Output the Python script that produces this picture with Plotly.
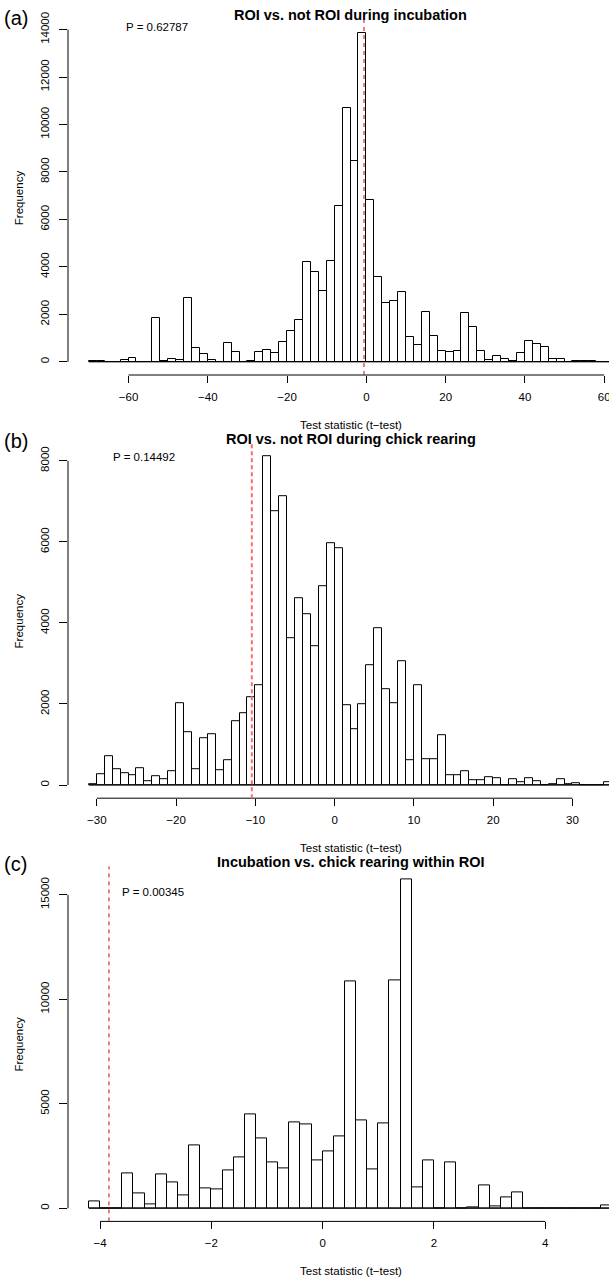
import plotly.graph_objects as go

W, H = 609, 1280
FONT = "Liberation Sans, Arial, Helvetica, sans-serif"

# ---------------- data ----------------
titles = ["ROI vs. not ROI during incubation",
          "ROI vs. not ROI during chick rearing",
          "Incubation vs. chick rearing within ROI"]
panel_labels = ["(a)", "(b)", "(c)"]
p_texts = ["P = 0.62787", "P = 0.14492", "P = 0.00345"]
observed = [-0.6, -10.45, -3.84]

# histogram (a): breaks from -70 to 62 by 2
a_start, a_width = -70, 2
a_counts = [43, 20, 5, 0, 86, 157, 0, 0, 1843, 20, 114, 71, 2700, 586, 329, 71,
            14, 800, 414, 0, 29, 400, 500, 360, 830, 1320, 1780, 4200, 3800, 2970,
            4250, 6585, 10711, 8450, 13849, 6811, 3570, 2490, 2570, 2940, 1045, 700,
            2100, 1070, 471, 400, 443, 2043, 1457, 457, 86, 229, 100, 43, 371, 872,
            757, 643, 100, 114, 10, 57, 29, 29, 5, 14]
a_xticks = [-60, -40, -20, 0, 20, 40, 60]
a_yticks = [0, 2000, 4000, 6000, 8000, 10000, 12000, 14000]

# histogram (b): breaks from -31 to 35 by 1
b_start, b_width = -31, 1
b_counts = [16, 263, 700, 390, 288, 255, 428, 90, 214, 140, 337, 2020, 1295, 385,
            1148, 1250, 360, 618, 1587, 1770, 2175, 2458, 8110, 6754, 7124, 3635,
            4617, 4205, 3437, 4906, 5960, 5840, 1966, 1380, 1990, 2966, 3874, 2371,
            2016, 3048, 620, 2470, 636, 628, 1228, 255, 247, 346, 115, 123, 189, 181,
            8, 148, 74, 181, 107, 0, 16, 140, 33, 41, 0, 0, 8, 66]
b_xticks = [-30, -20, -10, 0, 10, 20, 30]
b_yticks = [0, 2000, 4000, 6000, 8000]

# histogram (c): breaks from -4.2 to 5.2 by 0.2
c_start, c_width = -4.2, 0.2
c_counts = [337, 0, 0, 1667, 705, 208, 1619, 1234, 625, 3012, 944, 881, 1827, 2420,
            4471, 3366, 2204, 1930, 4125, 4005, 2290, 2716, 3462, 10846, 4220, 1868,
            4068, 10900, 15730, 1010, 2308, 0, 2212, 0, 48, 1106, 80, 529, 769, 0, 0,
            0, 0, 0, 0, 0, 144]
c_xticks = [-4, -2, 0, 2, 4]
c_yticks = [0, 5000, 10000, 15000]

panels = [
    (a_start, a_width, a_counts, a_xticks, a_yticks),
    (b_start, b_width, b_counts, b_xticks, b_yticks),
    (c_start, c_width, c_counts, c_xticks, c_yticks),
]

# ---------------- layout helpers ----------------
PERIOD = 423.2
PLOT_LEFT, PLOT_RIGHT = 68, 633  # R plot region (cropped at 609)
px = lambda p: p / W
py = lambda p: 1 - p / H


def fmt(v):
    return str(v).replace("-", "\u2212")


fig = go.Figure()
layout = dict(width=W, height=H, autosize=False,
              margin=dict(l=0, r=0, t=0, b=0, pad=0, autoexpand=False),
              paper_bgcolor="white", plot_bgcolor="white", showlegend=False,
              font=dict(family=FONT, size=11.5, color="black"))
shapes, annotations = [], []

for k, (start, width, counts, xticks, yticks) in enumerate(panels):
    sfx = "" if k == 0 else str(k + 1)
    n = len(counts)
    breaks = [start + i * width for i in range(n + 1)]
    centers = [start + (i + 0.5) * width for i in range(n)]
    lo_b, hi_b = breaks[0], breaks[-1]
    span = hi_b - lo_b
    xlo, xhi = lo_b - 0.04 * span, hi_b + 0.04 * span
    xr = xlo + (W - PLOT_LEFT) / (PLOT_RIGHT - PLOT_LEFT) * (xhi - xlo)
    M = max(counts)
    top = 20 + k * PERIOD
    bot = 375 + k * PERIOD

    fig.add_trace(go.Bar(x=centers, y=counts, width=width,
                         marker=dict(color="white", line=dict(color="black", width=1)),
                         xaxis="x" + sfx, yaxis="y" + sfx, hoverinfo="skip"))
    fig.add_trace(go.Scatter(x=[lo_b, hi_b], y=[0, 0], mode="lines",
                             line=dict(color="black", width=1),
                             xaxis="x" + sfx, yaxis="y" + sfx, hoverinfo="skip"))

    layout["xaxis" + sfx] = dict(domain=[px(PLOT_LEFT), 1], range=[xlo, xr],
                                 anchor="y" + sfx, tickvals=xticks, automargin=False,
                                 ticktext=[fmt(v) for v in xticks], ticks="outside",
                                 ticklen=7, tickcolor="black", tickwidth=1,
                                 showline=False, showgrid=False, zeroline=False,
                                 ticklabelstandoff=4, ticklabeloverflow="allow",
                                 tickfont=dict(family=FONT, size=11.5, color="black"))
    layout["yaxis" + sfx] = dict(domain=[py(bot), py(top)], range=[-0.04 * M, 1.04 * M],
                                 anchor="x" + sfx, tickvals=yticks, automargin=False,
                                 ticktext=[fmt(v) for v in yticks], ticks="outside",
                                 ticklen=8, tickcolor="black", tickwidth=1,
                                 tickangle=-90, showline=False, showgrid=False,
                                 zeroline=False, ticklabelstandoff=5,
                                 tickfont=dict(family=FONT, size=11.5, color="black"))

    # R-style axis lines spanning first to last tick
    shapes.append(dict(type="line", xref="x" + sfx, yref="y" + sfx + " domain",
                       x0=xticks[0], x1=xticks[-1], y0=0, y1=0,
                       line=dict(color="black", width=1)))
    shapes.append(dict(type="line", xref="x" + sfx + " domain", yref="y" + sfx,
                       x0=0, x1=0, y0=yticks[0], y1=yticks[-1],
                       line=dict(color="black", width=1)))
    # observed statistic
    red = dict(color="#ff6b6b", width=2, dash="4px,3px") if k == 1 else \
        dict(color="#e00000", width=1, dash="4px,4px")
    shapes.append(dict(type="line", xref="x" + sfx, yref="y" + sfx + " domain",
                       x0=observed[k], x1=observed[k], y0=0, y1=1, line=red))

    cx = (PLOT_LEFT + PLOT_RIGHT) / 2
    annotations += [
        dict(text="<b>" + titles[k] + "</b>", x=px(cx), y=py(15.5 + k * PERIOD),
             xref="paper", yref="paper", showarrow=False, xanchor="center",
             yanchor="middle", font=dict(family=FONT, size=14.5, color="black")),
        dict(text=panel_labels[k], x=px(2), y=py(18 + k * PERIOD),
             xref="paper", yref="paper", showarrow=False, xanchor="left",
             yanchor="middle", font=dict(family=FONT, size=20, color="black")),
        dict(text=p_texts[k], x=px([156.6, 144.3, 153][k]),
             y=py([26.7, 33.5, 46][k] + k * PERIOD),
             xref="paper", yref="paper", showarrow=False, xanchor="center",
             yanchor="middle", font=dict(family=FONT, size=11.5, color="black")),
        dict(text="Test statistic (t\u2212test)", x=px(cx), y=py(424.5 + k * PERIOD),
             xref="paper", yref="paper", showarrow=False, xanchor="center",
             yanchor="middle", font=dict(family=FONT, size=11.5, color="black")),
        dict(text="Frequency", x=px(18.7), y=py((top + bot) / 2),
             xref="paper", yref="paper", showarrow=False, xanchor="center",
             yanchor="middle", textangle=-90,
             font=dict(family=FONT, size=11.5, color="black")),
    ]

layout["shapes"] = shapes
layout["annotations"] = annotations
layout["bargap"] = 0
fig.update_layout(**layout)
fig.write_html("out.html")
